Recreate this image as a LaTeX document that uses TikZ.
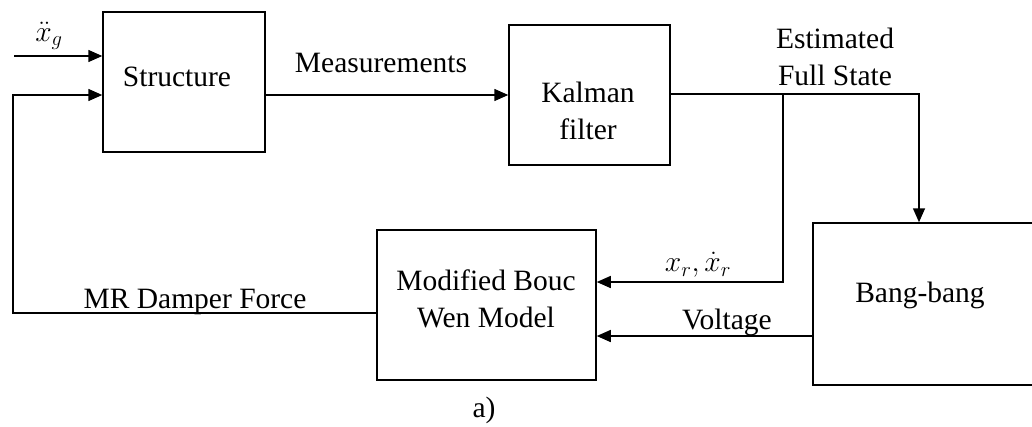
\documentclass[tikz,border=0pt]{standalone}
\usepackage{fix-cm}
\usepackage{fontspec}
\setmainfont{Liberation Serif}
\usetikzlibrary{arrows.meta}
\begin{document}
\begin{tikzpicture}[x=1pt,y=-1pt,
  every node/.style={font=\fontsize{29.5}{37}\selectfont, inner sep=0pt},
  blk/.style={draw, line width=1.5pt, inner sep=0pt},
  wire/.style={line width=1.5pt},
  arr/.style={wire, -{Triangle[length=14pt,width=12pt]}},
  txt/.style={align=center}]
\clip (0,0) rectangle (1032,426);
\useasboundingbox (0,0) rectangle (1032,426);
% boxes
\node[blk, minimum width=162pt, minimum height=140pt] (st) at (184,82) {};
\node[blk, minimum width=161pt, minimum height=140pt] (kf) at (589.5,95) {};
\node[blk, minimum width=219pt, minimum height=150pt] (bw) at (486.5,305) {};
\node[blk, minimum width=240pt, minimum height=162pt] (bb) at (933,304) {};
% box texts
\node[txt] (stt) at (177,77) {Structure};
\node[txt] (kft) at (588,111) {Kalman\\filter};
\node[txt] (bwt) at (486,299) {Modified Bouc\\Wen Model};
\node[txt] (bbt) at (920,295) {Bang-bang};
% coordinates
\coordinate (xgin) at (14,56);
\coordinate (fbl) at (13,313);
\coordinate (fbt) at (13,95);
\coordinate (kfo) at (919,94);
\coordinate (br) at (783,94);
\coordinate (brb) at (783,282);
% connectors
\draw[arr] (xgin) -- (xgin -| st.west);
\draw[arr] (bw.west |- fbl) -- (fbl) -- (fbt) -- (fbt -| st.west);
\draw[arr] (st.east |- 0,95) -- (kf.west |- 0,95);
\draw[arr] (kf.east |- kfo) -- (kfo) -- (kfo |- bb.north);
\draw[arr] (br) -- (brb) -- (brb -| bw.east);
\draw[arr] (bb.west |- 0,336) -- (bw.east |- 0,336);
% labels
\node (lxg) at (49,36) {$\ddot{x}_g$};
\node (lmeas) at (381,63) {Measurements};
\node[txt] (lest) at (835,57) {Estimated\\Full State};
\node (lxr) at (698,265) {$x_r,\dot{x}_r$};
\node (lvolt) at (727,322) {Voltage};
\node (lmr) at (195,302) {MR Damper Force};
\node (la) at (484,410) {a)};
\end{tikzpicture}
\end{document}
